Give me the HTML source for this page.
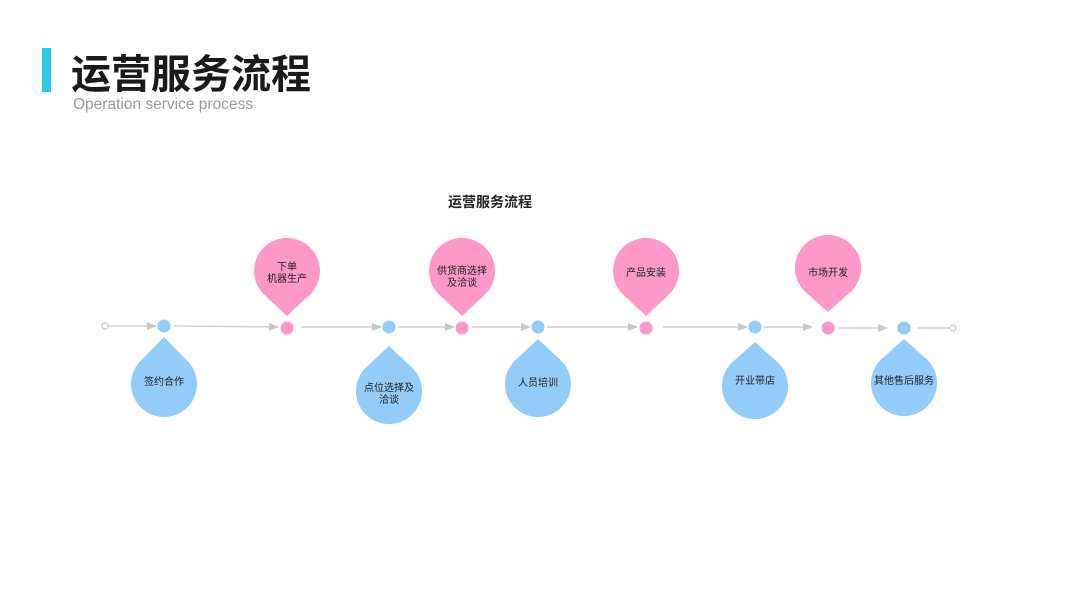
<!DOCTYPE html>
<html><head><meta charset="utf-8"><style>
html,body{margin:0;padding:0;background:#fff;}
body{width:1080px;height:608px;position:relative;overflow:hidden;font-family:"Liberation Sans","Noto Sans CJK SC",sans-serif;}
.bar{position:absolute;left:42px;top:48px;width:9px;height:44px;background:#2ec6e9;}
.t{position:absolute;left:71px;top:46px;font-size:40px;font-weight:bold;color:#1a1a1a;line-height:50px;font-family:"Noto Sans CJK SC",sans-serif;}
.s{position:absolute;left:73px;top:96px;font-size:15.5px;color:#9a9a9a;line-height:18px;}
</style></head><body>
<div class="bar"></div>
<div class="t">运营服务流程</div>
<div class="s">Operation service process</div>
<svg width="1080" height="608" style="position:absolute;left:0;top:0" font-family="Noto Sans CJK SC, sans-serif">
<defs><marker id="a" markerWidth="10" markerHeight="8" refX="9" refY="4" orient="auto" markerUnits="userSpaceOnUse"><path d="M0,0 L10,4 L0,8 Z" fill="#c8c8c8"/></marker></defs>
<text x="490" y="207" text-anchor="middle" font-size="14" font-weight="bold" fill="#222">运营服务流程</text>
<g stroke="#cfcfcf" stroke-width="1.5" fill="none">
<circle cx="105" cy="326" r="3" fill="#fff"/>
<line x1="108" y1="326" x2="156" y2="326" marker-end="url(#a)"/>
<line x1="174" y1="326" x2="278" y2="327" marker-end="url(#a)"/>
<line x1="301" y1="327" x2="381" y2="327" marker-end="url(#a)"/>
<line x1="398" y1="327" x2="454" y2="327" marker-end="url(#a)"/>
<line x1="472" y1="327" x2="530" y2="327" marker-end="url(#a)"/>
<line x1="547" y1="327" x2="637" y2="327" marker-end="url(#a)"/>
<line x1="663" y1="327" x2="747" y2="327" marker-end="url(#a)"/>
<line x1="764" y1="327" x2="812" y2="327" marker-end="url(#a)"/>
<line x1="839" y1="328" x2="887" y2="328" marker-end="url(#a)"/>
<line x1="918" y1="328" x2="950" y2="328"/>
<circle cx="953" cy="328" r="3" fill="#fff"/>
</g>
<g fill="#93cbf9">
<circle cx="164" cy="326" r="6.5"/><circle cx="389" cy="327" r="6.5"/><circle cx="538" cy="327" r="6.5"/><circle cx="755" cy="327" r="6.5"/><circle cx="904" cy="328" r="6.5"/>
<path d="M164,337 L187.3,360.7 A33,33 0 1 1 140.7,360.7 Z"/>
<path d="M389,346 L412.3,367.7 A33,33 0 1 1 365.7,367.7 Z"/>
<path d="M538,339 L561.3,360.7 A33,33 0 1 1 514.7,360.7 Z"/>
<path d="M755,342 L778.3,362.7 A33,33 0 1 1 731.7,362.7 Z"/>
<path d="M904,339 L927.3,359.7 A33,33 0 1 1 880.7,359.7 Z"/>
</g>
<g fill="#fd98c8">
<circle cx="287" cy="328" r="6.5"/><circle cx="462" cy="328" r="6.5"/><circle cx="646" cy="328" r="6.5"/><circle cx="828" cy="328" r="6.5"/>
<path d="M287,316 L263.7,294.3 A33,33 0 1 1 310.3,294.3 Z"/>
<path d="M462,316 L438.7,294.3 A33,33 0 1 1 485.3,294.3 Z"/>
<path d="M646,316 L622.7,294.3 A33,33 0 1 1 669.3,294.3 Z"/>
<path d="M828,312 L804.7,291.3 A33,33 0 1 1 851.3,291.3 Z"/>
</g>
<g font-size="10" fill="#222" text-anchor="middle">
<text x="164" y="385">签约合作</text>
<text x="389" y="391">点位选择及</text><text x="389" y="403">洽谈</text>
<text x="538" y="386">人员培训</text>
<text x="755" y="384">开业带店</text>
<text x="904" y="384">其他售后服务</text>
<text x="287" y="270">下单</text><text x="287" y="282">机器生产</text>
<text x="462" y="274">供货商选择</text><text x="462" y="286">及洽谈</text>
<text x="646" y="276">产品安装</text>
<text x="828" y="276">市场开发</text>
</g>
</svg>
</body></html>
